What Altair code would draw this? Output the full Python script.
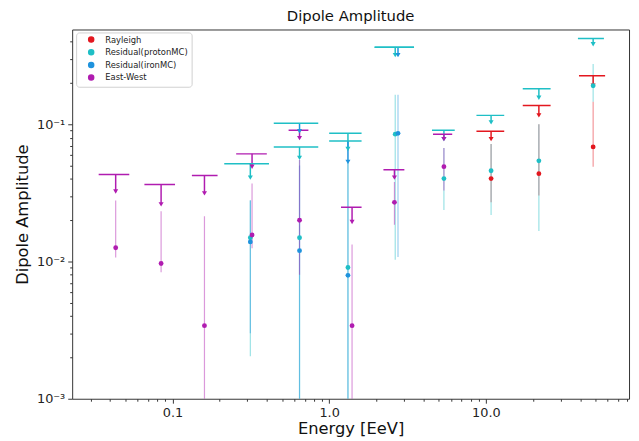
import altair as alt
import pandas as pd

SERIES = ["Rayleigh", "Residual(protonMC)", "Residual(ironMC)", "East-West"]
COLORS = ["#e3171f", "#1fbfc6", "#1f93dd", "#b01cb0"]

# ---- East-West ----
ew_E = [0.0434, 0.0846, 0.160, 0.322, 0.647, 1.40, 2.61, 5.40]
ew_val = [0.0126, 0.00968, 0.00341, 0.0156, 0.0200, 0.00341, 0.0270, 0.0491]
ew_lo = [0.0107, 0.00834, 0.0005, 0.0125, 0.008, 0.0005, 0.0185, 0.0330]
ew_hi = [0.0279, 0.0233, 0.0214, 0.037, 0.055, 0.0133, 0.038, 0.0672]
ew_ul = [0.0430, 0.0364, 0.0423, 0.0609, 0.0906, 0.0249, 0.0467, 0.0848]
ew_tri = [0.0324, 0.0261, 0.0314, 0.0491, 0.0793, 0.0194, 0.0409, 0.0780]
ew_x1 = [0.0338, 0.0662, 0.133, 0.255, 0.551, 1.19, 2.22, 4.6]
ew_x2 = [0.0530, 0.1038, 0.194, 0.40, 0.737, 1.61, 3.02, 6.1]

# ---- Residual(protonMC) ----
pro_E = [0.314, 0.647, 1.318, 2.64, 5.40, 10.8, 21.8, 48.4]
pro_val = [0.0149, 0.0149, 0.00905, 0.0848, 0.0402, 0.0459, 0.0542, 0.191]
pro_lo = [0.00204, 0.0005, 0.0005, 0.0103, 0.0237, 0.0218, 0.0167, 0.146]
pro_hi = [0.0279, 0.055, 0.0533, 0.164, 0.0672, 0.0718, 0.100, 0.275]
pro_ul = [0.0515, 0.0684, 0.0861, 0.364, 0.0906, 0.1162, 0.1815, 0.4227]
pro_tri = [0.0409, 0.0569, 0.0661, 0.319, 0.078, 0.1033, 0.1563, 0.383]
pro_x1 = [0.214, 0.443, 1.0, 1.95, 4.53, 8.71, 17.2, 38.7]
pro_x2 = [0.413, 0.852, 1.61, 3.48, 6.33, 13.1, 25.9, 56.7]

# ---- Residual(ironMC) ----
iro_E = [0.314, 0.647, 1.318, 2.75]
iro_val = [0.0139, 0.0120, 0.00793, 0.0860]
iro_lo = [0.003, 0.0005, 0.0005, 0.0108]
iro_hi = [0.028, 0.05, 0.0533, 0.164]
iro_ul = [None, 0.1017, 0.0755, 0.364]
iro_tri = [None, 0.0891, 0.0533, 0.319]
iro_x1 = [None, 0.443, 1.0, 1.95]
iro_x2 = [None, 0.852, 1.61, 3.48]

# ---- Rayleigh ----
ray_E = [10.8, 21.8, 48.4]
ray_val = [0.0402, 0.0437, 0.0684]
ray_lo = [0.0270, 0.0303, 0.0491]
ray_hi = [0.0718, 0.100, 0.146]
ray_ul = [0.0891, 0.1371, 0.2255]
ray_tri = [0.0780, 0.1162, 0.191]
ray_x1 = [8.71, 17.2, 39.3]
ray_x2 = [13.1, 25.9, 57.7]

# colour used for the horizontal upper-limit bars (both MC residuals drawn teal)
BAR_COLOR_OF = {"Rayleigh": "Rayleigh", "Residual(protonMC)": "Residual(protonMC)",
                "Residual(ironMC)": "Residual(protonMC)", "East-West": "East-West"}

X_TICKS = [0.03, 0.04, 0.05, 0.06, 0.07, 0.08, 0.09, 0.1,
           0.2, 0.3, 0.4, 0.5, 0.6, 0.7, 0.8, 0.9, 1.0,
           2, 3, 4, 5, 6, 7, 8, 9, 10, 20, 30, 40, 50, 60, 70, 80]
Y_TICKS = [0.001, 0.002, 0.003, 0.004, 0.005, 0.006, 0.007, 0.008, 0.009,
           0.01, 0.02, 0.03, 0.04, 0.05, 0.06, 0.07, 0.08, 0.09,
           0.1, 0.2, 0.3, 0.4]

groups = [
    ("Rayleigh", ray_E, ray_val, ray_lo, ray_hi, ray_ul, ray_tri, ray_x1, ray_x2),
    ("Residual(protonMC)", pro_E, pro_val, pro_lo, pro_hi, pro_ul, pro_tri, pro_x1, pro_x2),
    ("Residual(ironMC)", iro_E, iro_val, iro_lo, iro_hi, iro_ul, iro_tri, iro_x1, iro_x2),
    ("East-West", ew_E, ew_val, ew_lo, ew_hi, ew_ul, ew_tri, ew_x1, ew_x2),
]

pts, uls = [], []
for name, E, val, lo, hi, ul, tri, x1, x2 in groups:
    for i in range(len(E)):
        pts.append({"series": name, "E": E[i], "val": val[i], "lo": lo[i], "hi": hi[i]})
        if ul[i] is not None:
            uls.append({"series": name, "barseries": BAR_COLOR_OF[name], "E": E[i],
                        "ul": ul[i], "tri": tri[i], "x1": x1[i], "x2": x2[i]})
df_pts = pd.DataFrame(pts)
df_ul = pd.DataFrame(uls)

major = "abs(log(datum.value)/LN10 - round(log(datum.value)/LN10)) < 0.001"
xs = alt.Scale(type="log", domain=[0.0229, 82])
ys = alt.Scale(type="log", domain=[0.001, 0.491])

xaxis = alt.Axis(
    title="Energy [EeV]", values=X_TICKS, grid=False, domain=False,
    labelExpr=f"{major} ? format(datum.value, '.1f') : ''",
    tickSize={"condition": {"test": major, "value": 4.5}, "value": 2.5},
    labelOverlap=False, labelFlush=False, labelFontSize=13, labelPadding=3,
    titleFontSize=16.5, titleFontWeight="normal", titleX=282, titleY=30,
    titleBaseline="middle", titleAlign="center",
)
yaxis = alt.Axis(
    title="Dipole Amplitude", values=Y_TICKS, grid=False, domain=False,
    labelExpr=(f"{major} ? (round(log(datum.value)/LN10) == -3 ? '10⁻³' : "
               "(round(log(datum.value)/LN10) == -2 ? '10⁻²' : '10⁻¹')) : ''"),
    tickSize={"condition": {"test": major, "value": 4.5}, "value": 2.5},
    labelOverlap=False, labelFlush=False, labelFontSize=13, labelPadding=3,
    titleFontSize=16.5, titleFontWeight="normal", titleX=-50, titleY=187,
    titleBaseline="middle", titleAlign="center",
)

cscale = alt.Scale(domain=SERIES, range=COLORS)
legend = alt.Legend(
    title=None, orient="none", legendX=4, legendY=3,
    fillColor="white", strokeColor="#d0d0d0", padding=3, cornerRadius=3,
    labelFontSize=8.5, labelColor="#222", symbolSize=26, rowPadding=0.8,
    symbolOffset=8, labelOffset=10, symbolType="circle", symbolOpacity=1,
)
col = alt.Color("series:N", scale=cscale, legend=legend)

errs = alt.Chart(df_pts).mark_rule(strokeWidth=1.2, opacity=0.45, clip=True).encode(
    x=alt.X("E:Q", scale=xs, axis=xaxis),
    y=alt.Y("lo:Q", scale=ys, axis=yaxis),
    y2="hi:Q",
    color=col,
)
ul_line = alt.Chart(df_ul).mark_rule(strokeWidth=1.5, clip=True).encode(
    x=alt.X("E:Q", scale=xs, axis=xaxis),
    y=alt.Y("ul:Q", scale=ys, axis=yaxis),
    y2="tri:Q",
    color=col,
)
ul_bar = alt.Chart(df_ul).mark_rule(strokeWidth=1.5, clip=True).encode(
    x=alt.X("x1:Q", scale=xs, axis=xaxis),
    x2="x2:Q",
    y=alt.Y("ul:Q", scale=ys, axis=yaxis),
    stroke=alt.Stroke("barseries:N", scale=alt.Scale(domain=SERIES, range=COLORS),
                      legend=None),
)
tris = alt.Chart(df_ul).mark_point(shape="triangle-down", filled=True, size=26,
                                   opacity=1, clip=True).encode(
    x=alt.X("E:Q", scale=xs, axis=xaxis),
    y=alt.Y("tri:Q", scale=ys, axis=yaxis),
    color=col,
)
dots = alt.Chart(df_pts).mark_circle(size=24, opacity=1, clip=True).encode(
    x=alt.X("E:Q", scale=xs, axis=xaxis),
    y=alt.Y("val:Q", scale=ys, axis=yaxis),
    color=col,
)

chart = alt.layer(errs, ul_line, ul_bar, tris, dots).properties(
    width=564, height=374,
    autosize=alt.AutoSizeParams(type="none"),
    padding={"left": 65, "top": 19, "right": 2, "bottom": 38},
    title=alt.TitleParams("Dipole Amplitude", fontSize=15, fontWeight="normal",
                          frame="group", anchor="middle", offset=6, color="#111"),
).configure(font="DejaVu Sans").configure_view(
    stroke="#333", strokeWidth=1
).configure_axis(tickColor="#333", labelColor="#222", titleColor="#111")

chart.save("out.html", embed_options={"renderer": "svg", "actions": False})
